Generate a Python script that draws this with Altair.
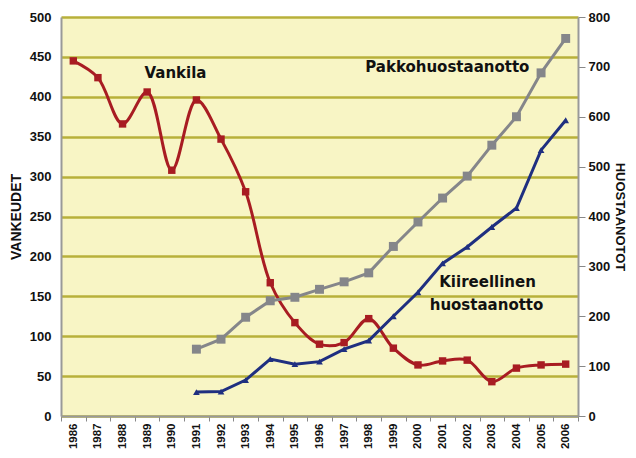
import altair as alt
import pandas as pd

years = [str(y) for y in range(1986, 2007)]
vankila = [445, 424, 366, 406, 308, 396, 347, 281, 167, 117, 90, 92, 122, 85, 64, 69, 70, 43, 60, 64, 65]
pakko_years = [str(y) for y in range(1991, 2007)]
pakko = [134, 154, 198, 231, 238, 254, 269, 287, 340, 389, 437, 481, 543, 600, 688, 757]
kiire = [48, 49, 72, 114, 104, 109, 134, 151, 200, 248, 306, 339, 379, 417, 533, 593]

ann_text = ["Vankila", "Pakkohuostaanotto", "Kiireellinen", "huostaanotto"]
ann_year = ["1990", "2001", "2003", "2003"]
ann_val = [430, 437, 168, 139]
ann_dx = [16, 17, 8, 7]

df_v = pd.DataFrame({"year": years, "v": vankila})
df_p = pd.DataFrame({"year": pakko_years, "v": pakko})
df_k = pd.DataFrame({"year": pakko_years, "v": kiire})
df_a = pd.DataFrame({"year": ann_year, "v": ann_val, "t": ann_text, "dx": ann_dx})

xscale = alt.Scale(type="band", domain=years, paddingInner=0, paddingOuter=0)
xaxis = alt.Axis(title=None, labelAngle=270, labelFontWeight="bold", labelFontSize=11.5,
                 labelFont="Liberation Sans", labelColor="#111", tickBand="extent",
                 tickSize=5, tickColor="#888", domainColor="#999", domainWidth=2,
                 labelPadding=2, labelBaseline="middle", labelAlign="right")
X = alt.X("year:O", scale=xscale, axis=xaxis)

lscale = alt.Scale(domain=[0, 500], nice=False)
rscale = alt.Scale(domain=[0, 800], nice=False)

laxis = alt.Axis(title="VANKEUDET", values=list(range(0, 501, 50)), grid=True,
                 gridColor="#B8B03A", gridWidth=2.5, ticks=False, domainColor="#999",
                 domainWidth=2, labelFontWeight="bold", labelFontSize=13,
                 labelFont="Liberation Sans", labelColor="#111", labelPadding=10,
                 labelOverlap=False,
                 titleFont="Liberation Sans", titleFontSize=14, titleFontWeight="bold",
                 titleColor="#111", titlePadding=6)
raxis = alt.Axis(title="HUOSTAANOTOT", orient="right", values=list(range(0, 801, 100)),
                 grid=False, tickSize=7, tickColor="#888", domainColor="#999",
                 domainWidth=2, labelFontWeight="bold", labelFontSize=13,
                 labelFont="Liberation Sans", labelColor="#111", labelPadding=3,
                 labelOverlap=False,
                 titleFont="Liberation Sans", titleFontSize=13, titleFontWeight="bold",
                 titleColor="#111", titleAngle=90, titlePadding=3)

red = "#A81C22"
gray = "#85868A"
blue = "#1F2F80"

YL = alt.Y("v:Q", scale=lscale, axis=laxis)
YR = alt.Y("v:Q", scale=rscale, axis=raxis)

left = alt.layer(
    alt.Chart(df_v).mark_line(color=red, strokeWidth=3, interpolate="catmull-rom").encode(
        x=X, y=YL),
    alt.Chart(df_v).mark_point(shape="square", filled=True, size=55, color=red, opacity=1).encode(
        x=X, y=YL),
    alt.Chart(df_a).mark_text(font="DejaVu Sans", fontWeight="bold", fontSize=15, color="#111",
                              align="center", baseline="middle").encode(
        x=X, y=YL, text="t:N", xOffset=alt.XOffset("dx:Q", scale=None)),
)

right = alt.layer(
    alt.Chart(df_p).mark_line(color=gray, strokeWidth=3).encode(x=X, y=YR),
    alt.Chart(df_p).mark_point(shape="square", filled=True, size=80, color=gray, opacity=1).encode(
        x=X, y=YR),
    alt.Chart(df_k).mark_line(color=blue, strokeWidth=3).encode(x=X, y=YR),
    alt.Chart(df_k).mark_point(shape="triangle-up", filled=True, size=45, color=blue, opacity=1).encode(
        x=X, y=YR),
)

chart = alt.layer(left, right).resolve_scale(y="independent").properties(
    width=517, height=399,
    autosize=alt.AutoSizeParams(type="none"),
    padding={"left": 53, "top": 9, "right": 50, "bottom": 34},
    background="white",
).configure_view(fill="#F8F5C5", stroke=None)

chart.save("out.html", embed_options={"renderer": "svg", "actions": False})
